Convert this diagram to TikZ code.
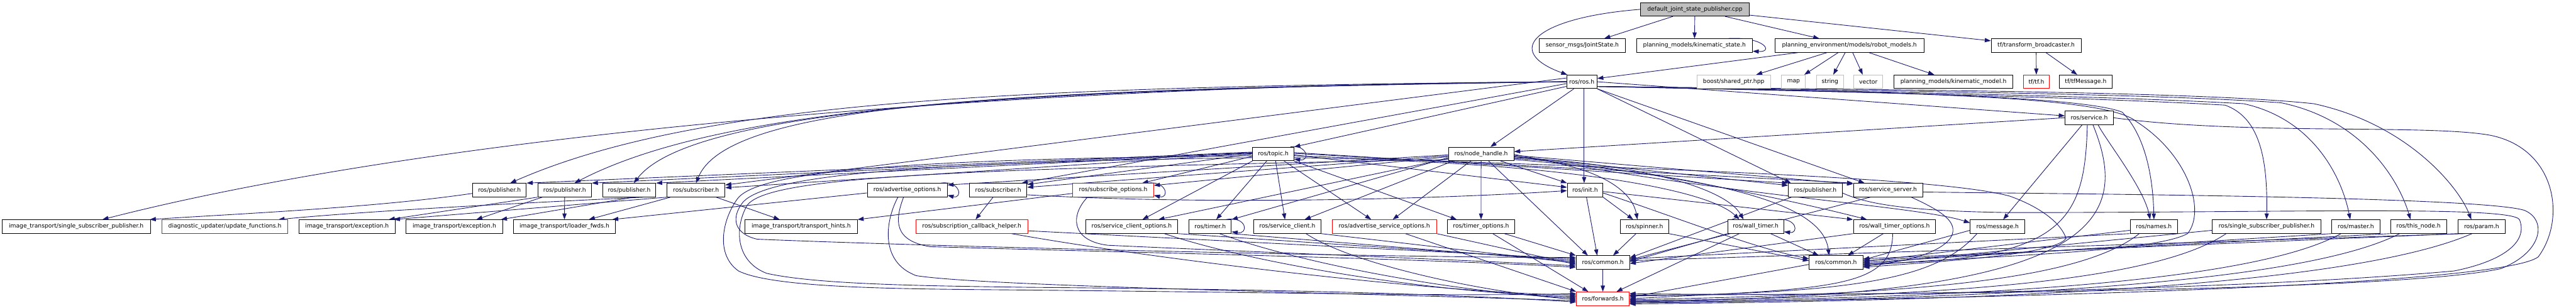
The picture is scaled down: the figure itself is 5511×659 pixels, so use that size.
\documentclass[tikz,border=0pt]{standalone}
\usepackage{fontspec}
\newfontfamily\dxfont{DejaVu Sans}
\usetikzlibrary{arrows.meta}
\pgfdeclarelayer{bglayer}
\pgfdeclarelayer{edgelayer}
\pgfsetlayers{bglayer,edgelayer,main}
\definecolor{dxedge}{HTML}{191970}
\definecolor{dxgray}{HTML}{BFBFBF}
\begin{document}
\begin{tikzpicture}[x=1pt,y=-1pt,
  nb/.style={draw=black,fill=white,line width=1.2pt,minimum height=29pt,inner sep=0pt,font=\dxfont\fontsize{12.4}{14}\selectfont},
  nr/.style={nb,draw=red},
  ng/.style={nb,draw=dxgray},
  nt/.style={nb,fill=dxgray},
  e/.style={draw=dxedge,line width=1.2pt,-{Triangle[length=13pt,width=9pt]}}]
\begin{pgfonlayer}{bglayer}
\fill[white] (0,0) rectangle (5511,659);
\end{pgfonlayer}
\useasboundingbox (0,0) rectangle (5511,659);
% row 0
\node[nt,minimum width=232pt] (top) at (3626,20) {default\_joint\_state\_publisher.cpp};
% row 1
\node[nb,minimum width=184pt] (sensor) at (3385,97.5) {sensor\_msgs/JointState.h};
\node[nb,minimum width=248pt] (kstate) at (3625,97.5) {planning\_models/kinematic\_state.h};
\node[nb,minimum width=319pt] (robot) at (3956.5,97.5) {planning\_environment/models/robot\_models.h};
\node[nb,minimum width=192.5pt] (tfb) at (4356,97.5) {tf/transform\_broadcaster.h};
% row 2
\node[nb,minimum width=65pt] (rosh) at (3384,175) {ros/ros.h};
\node[ng,minimum width=157.5pt] (boost) at (3709,175) {boost/shared\_ptr.hpp};
\node[ng,minimum width=51pt] (map) at (3837,175) {map};
\node[ng,minimum width=58pt] (string) at (3915,175) {string};
\node[ng,minimum width=62pt] (vector) at (3997,175) {vector};
\node[nb,minimum width=254pt] (kmodel) at (4179,175) {planning\_models/kinematic\_model.h};
\node[nr,minimum width=55pt] (tftf) at (4356.5,175) {tf/tf.h};
\node[nb,minimum width=112pt] (tfmsg) at (4462,175) {tf/tfMessage.h};
% row 3
\node[nb,minimum width=103pt] (service) at (4469.5,252) {ros/service.h};
% row 4
\node[nb,minimum width=88pt] (topic) at (2724,329.5) {ros/topic.h};
\node[nb,minimum width=140pt] (nh) at (3168.6,329.5) {ros/node\_handle.h};
% row 5
\node[nb,minimum width=115pt] (pub1) at (1068.5,407) {ros/publisher.h};
\node[nb,minimum width=115pt] (pub2) at (1208,407) {ros/publisher.h};
\node[nb,minimum width=114pt] (pub3) at (1346,407) {ros/publisher.h};
\node[nb,minimum width=124pt] (sub1) at (1489,407) {ros/subscriber.h};
\node[nb,minimum width=171pt] (advopt) at (1941,407) {ros/advertise\_options.h};
\node[nb,minimum width=123pt] (sub2) at (2135.5,407) {ros/subscriber.h};
\node[nr,minimum width=173pt] (subopt) at (2381.5,407) {ros/subscribe\_options.h};
\node[nb,minimum width=76pt] (init) at (3391,407) {ros/init.h};
\node[nb,minimum width=115pt] (pub4) at (3883.5,407) {ros/publisher.h};
\node[nb,minimum width=148pt] (srvsrv) at (4039,407) {ros/service\_server.h};
% row 6
\node[nb,minimum width=317.5pt] (itssp) at (163,485) {image\_transport/single\_subscriber\_publisher.h};
\node[nr,minimum width=270pt] (diag) at (481,485) {diagnostic\_updater/update\_functions.h};
\node[nb,minimum width=205pt] (exc1) at (742.5,485) {image\_transport/exception.h};
\node[nb,minimum width=206pt] (exc2) at (972,485) {image\_transport/exception.h};
\node[nb,minimum width=219pt] (loader) at (1207.5,485) {image\_transport/loader\_fwds.h};
\node[nb,minimum width=240pt] (hints) at (1714,485) {image\_transport/transport\_hints.h};
\node[nr,minimum width=239pt] (subcb) at (2079,485) {ros/subscription\_callback\_helper.h};
\node[nb,minimum width=197pt] (sco) at (2421,485) {ros/service\_client\_options.h};
\node[nb,minimum width=90.5pt] (timer) at (2589,485) {ros/timer.h};
\node[nb,minimum width=144pt] (sclient) at (2754,485) {ros/service\_client.h};
\node[nr,minimum width=223pt] (aso) at (2961.5,485) {ros/advertise\_service\_options.h};
\node[nb,minimum width=145pt] (topt) at (3168.5,485) {ros/timer\_options.h};
\node[nb,minimum width=103.5pt] (spinner) at (3518,485) {ros/spinner.h};
\node[nb,minimum width=120pt] (wtimer) at (3756,485) {ros/wall\_timer.h};
\node[nb,minimum width=176pt] (wto) at (4053,485) {ros/wall\_timer\_options.h};
\node[nb,minimum width=117pt] (msg) at (4273.5,485) {ros/message.h};
\node[nb,minimum width=101.6pt] (names) at (4608,485) {ros/names.h};
\node[nb,minimum width=232pt] (rssp) at (4849,485) {ros/single\_subscriber\_publisher.h};
\node[nb,minimum width=102.5pt] (master) at (5040,485) {ros/master.h};
\node[nb,minimum width=119.5pt] (thisnode) at (5174,485) {ros/this\_node.h};
\node[nb,minimum width=100pt] (param) at (5309,485) {ros/param.h};
% row 7, 8
\node[nb,minimum width=114pt] (common1) at (3429,562) {ros/common.h};
\node[nb,minimum width=115pt] (common2) at (3928,562) {ros/common.h};
\node[nr,minimum width=112.5pt] (fwd) at (3429,639.5) {ros/forwards.h};

\begin{pgfonlayer}{edgelayer}
% top
\draw[e] (top) -- (sensor);
\draw[e] (top) -- (kstate);
\draw[e] (top) -- (robot);
\draw[e] (top) -- (tfb);
\draw[e] (top.west) .. controls (3280,38) and (3215,110) .. ([xshift=2pt]rosh.north west);
\draw[e] ([xshift=-52pt]kstate.north east) .. controls (3775,78) and (3795,112) .. ([yshift=3pt]kstate.south east);
% robot models
\draw[e] ([xshift=-110pt]robot.south) -- ([yshift=7pt]rosh.east);
\draw[e] ([xshift=-48pt]robot.south) -- ([xshift=48pt]boost.north);
\draw[e] ([xshift=-24pt]robot.south) -- ([xshift=23pt]map.north);
\draw[e] ([xshift=-9pt]robot.south) -- ([xshift=7pt]string.north);
\draw[e] ([xshift=7pt]robot.south) -- ([xshift=-12pt]vector.north);
\draw[e] ([xshift=42pt]robot.south) -- ([xshift=-41pt]kmodel.north);
% tf
\draw[e] (tfb) -- (tftf);
\draw[e] ([xshift=21pt]tfb.south) -- ([xshift=-18pt]tfmsg.north);
% ros.h
\draw[e] ([xshift=-17pt]rosh.south) -- ([xshift=20pt]nh.north);
\draw[e] ([xshift=5pt]rosh.south) -- ([xshift=-2pt]init.north);
\draw[e] ([yshift=-10pt]rosh.west) -- (topic.north east);
\draw[e] (rosh.east) -- ([yshift=4pt]service.west);
\draw[e] (rosh.south east) -- ([xshift=-52pt]pub4.north);
\draw[e] (rosh.south east) -- ([xshift=-50pt]srvsrv.north);
\draw[e] ([yshift=-10pt]rosh.east) .. controls (4000,195) and (4450,205) .. (4540,240) .. controls (4590,290) and (4606,380) .. (names.north);
\draw[e] ([yshift=-10pt]rosh.east) .. controls (4000,197) and (4500,210) .. (4760,225) .. controls (4830,250) and (4852,330) .. (rssp.north);
\draw[e] ([yshift=-10pt]rosh.east) .. controls (4000,196) and (4500,205) .. (4800,222) .. controls (4950,255) and (5010,380) .. ([xshift=-12pt]master.north);
\draw[e] ([yshift=-10pt]rosh.east) .. controls (4000,194) and (4600,200) .. (4880,220) .. controls (5050,255) and (5130,380) .. ([xshift=-17pt]thisnode.north);
\draw[e] ([yshift=-10pt]rosh.east) .. controls (4000,192) and (4700,195) .. (4950,222) .. controls (5150,265) and (5260,400) .. ([xshift=-22pt]param.north);
\draw[e] ([yshift=-10pt]rosh.east) .. controls (4000,198) and (4500,200) .. (4570,260) .. controls (4680,330) and (4720,450) .. (4680,500) .. controls (4600,545) and (4150,550) .. ([yshift=-8pt]common2.east);
\draw[e] (rosh.west) .. controls (2300,180) and (1000,270) .. ([xshift=56pt]itssp.north);
\draw[e] (rosh.west) .. controls (2200,185) and (1500,212) .. ([xshift=23pt]pub1.north);
\draw[e] (rosh.west) .. controls (2200,188) and (1550,225) .. ([xshift=21pt]pub2.north);
\draw[e] (rosh.west) .. controls (2200,190) and (1480,230) .. ([xshift=10pt]pub3.north);
\draw[e] (rosh.west) .. controls (2200,192) and (1560,215) .. (sub1.north);
\draw[e] ([yshift=8pt]rosh.west) -- ([yshift=-4pt]sub1.north east);
\draw[e] ([yshift=-4pt]rosh.west) -- ([xshift=-12pt]sub2.north east);
% topic.h
\draw[e] ([xshift=-8pt]topic.north east) .. controls (2795,308) and (2805,345) .. ([yshift=4pt]topic.south east);
\draw[e] (topic.west) -- ([yshift=-3pt]sub2.north east);
\draw[e] ([yshift=-5pt]topic.west) -- ([xshift=62pt]subopt.north);
\draw[e] (topic.south west) -- ([xshift=23pt]sco.north);
\draw[e] ([xshift=-14pt]topic.south) -- ([xshift=13pt]timer.north);
\draw[e] ([xshift=5pt]topic.south) -- ([xshift=-5pt]sclient.north);
\draw[e] ([xshift=23pt]topic.south) -- ([xshift=-28pt]aso.north);
\draw[e] (topic.south east) -- ([xshift=-52pt]topt.north);
\draw[e] ([yshift=-2pt]topic.east) -- ([yshift=6pt]init.west);
\draw[e] ([yshift=3pt]topic.east) -- (pub4.north west);
\draw[e] ([yshift=1pt]topic.east) -- (srvsrv.north west);
\draw[e] ([yshift=-8pt]topic.east) .. controls (3300,345) and (3650,400) .. ([xshift=-35pt]wtimer.north);
\draw[e] ([yshift=-4pt]topic.east) .. controls (3500,360) and (4150,378) .. (4300,420) .. controls (4370,445) and (4410,480) .. (4420,510) .. controls (4400,545) and (4150,560) .. ([yshift=-10pt]common2.east);
\draw[e] ([yshift=4pt]topic.west) -- (pub1.north east);
\draw[e] ([yshift=3pt]topic.west) -- (pub2.north east);
\draw[e] ([yshift=2pt]topic.west) -- (pub3.north east);
\draw[e] ([yshift=1pt]topic.west) -- ([yshift=-10pt]sub1.north east);
\draw[e] ([yshift=-4pt]topic.west) .. controls (1900,340) and (1620,370) .. (1578,425) .. controls (1545,470) and (1530,545) .. (1580,580) .. controls (1650,615) and (1900,618) .. (2100,620) .. controls (2700,625) and (3100,635) .. ([yshift=11pt]fwd.west);
\draw[e] ([yshift=-8pt]topic.west) .. controls (1900,348) and (1640,380) .. (1590,432) .. controls (1560,470) and (1575,502) .. (1620,512) .. controls (2000,528) and (3000,552) .. ([yshift=11pt]common1.west);
% node_handle.h
\draw[e] ([xshift=42pt]nh.south) -- (init.north west);
\draw[e] (nh.south) -- (topt.north);
\draw[e] ([xshift=-22pt]nh.south) -- ([xshift=18pt]aso.north);
\draw[e] ([xshift=-60pt]nh.south) -- ([xshift=37pt]sclient.north);
\draw[e] ([xshift=16pt]nh.south) -- ([xshift=-32pt]common1.north);
\draw[e] ([yshift=-8pt]nh.west) -- (timer.north east);
\draw[e] ([yshift=-10pt]nh.west) -- ([xshift=-42pt]sco.north east);
\draw[e] ([yshift=-6pt]nh.west) -- ([yshift=-5pt]subopt.north east);
\draw[e] ([yshift=-4pt]nh.west) -- ([yshift=-9pt]sub2.north east);
\draw[e] ([yshift=-2pt]nh.west) -- ([yshift=-4pt]advopt.north east);
\draw[e] ([yshift=-5pt]nh.east) -- ([yshift=-5pt]pub4.north west);
\draw[e] ([yshift=-3pt]nh.east) -- ([yshift=-2pt]srvsrv.north west);
\draw[e] ([yshift=-6pt]nh.east) .. controls (3400,350) and (3490,400) .. ([xshift=-15pt]spinner.north);
\draw[e] ([yshift=-8pt]nh.east) .. controls (3500,350) and (3690,400) .. ([xshift=-26pt]wtimer.north);
\draw[e] ([yshift=-10pt]nh.east) .. controls (3450,350) and (3800,420) .. ([xshift=-59pt]wto.north);
\draw[e] ([yshift=-12pt]nh.east) .. controls (3700,380) and (3900,440) .. ([xshift=-15pt]common2.north);
\draw[e] ([yshift=-1pt]nh.east) .. controls (3700,420) and (4100,440) .. ([yshift=8pt]msg.west);
\draw[e] ([yshift=-12pt]nh.west) .. controls (2000,362) and (1640,380) .. (1598,440) .. controls (1570,490) and (1575,560) .. (1640,585) .. controls (1750,610) and (2000,612) .. (2200,615) .. controls (2800,620) and (3100,630) .. ([yshift=-7pt]fwd.west);
% service.h
\draw[e] (service.west) -- ([yshift=5pt]nh.east);
\draw[e] ([xshift=-15pt]service.south) -- ([xshift=12pt]msg.north);
\draw[e] ([xshift=19pt]service.south) .. controls (4505,300) and (4585,400) .. ([xshift=-8pt]names.north);
\draw[e] ([xshift=-4pt]service.south) .. controls (4460,470) and (4420,560) .. ([yshift=-2pt]common2.east);
\draw[e] ([xshift=8pt]service.south) .. controls (4560,470) and (4500,640) .. ([yshift=-4pt]fwd.east);
\draw[e] (service.east) .. controls (4800,290) and (5200,265) .. (5330,290) .. controls (5470,320) and (5490,470) .. (5430,550) .. controls (5350,610) and (4300,640) .. ([yshift=-8pt]fwd.east);
% init.h
\draw[e] ([xshift=3pt]init.south) -- ([xshift=-12pt]common1.north);
\draw[e] (init.south east) -- ([xshift=-24pt]spinner.north);
\draw[e] ([yshift=-3pt]init.east) -- (wto.north west);
\draw[e] ([yshift=-6pt]init.east) .. controls (3600,470) and (3750,530) .. ([yshift=8pt]common2.west);
% publisher / service_server (right)
\draw[e] ([xshift=-51pt]pub4.south) -- ([yshift=10pt]common1.east);
\draw[e] ([xshift=-38pt]srvsrv.south) -- ([yshift=6pt]common1.east);
\draw[e] ([yshift=-6pt]pub4.east) .. controls (4000,440) and (4100,452) .. (4300,455) .. controls (4900,455) and (5370,440) .. (5390,470) .. controls (5410,520) and (5350,560) .. (5250,580) .. controls (4800,620) and (4000,635) .. ([yshift=11pt]fwd.east);
\draw[e] ([yshift=-4pt]srvsrv.east) .. controls (4400,415) and (5300,420) .. (5400,450) .. controls (5450,470) and (5440,540) .. (5350,575) .. controls (5150,620) and (4200,630) .. ([yshift=8pt]fwd.east);
\draw[e] ([xshift=50pt]srvsrv.south) .. controls (4150,450) and (4180,470) .. (4178,495) .. controls (4175,530) and (4100,560) .. ([yshift=-6pt]common2.east);
% spinner, wall timer
\draw[e] ([xshift=-18pt]spinner.south) -- ([xshift=22pt]common1.north);
\draw[e] (spinner.south east) -- ([yshift=4pt]common2.west);
\draw[e] ([xshift=-14pt]wtimer.north east) .. controls (3845,466) and (3848,500) .. ([yshift=4pt]wtimer.south east);
\draw[e] ([xshift=-35pt]wtimer.south) -- ([xshift=29pt]fwd.north);
\draw[e] ([xshift=32pt]wtimer.south) -- ([xshift=-37pt]common2.north);
\draw[e] (wtimer.south west) -- ([yshift=2pt]common1.east);
\draw[e] ([xshift=-24pt]wto.south) -- ([xshift=25pt]common2.north);
\draw[e] ([xshift=-4pt]wto.south) .. controls (4050,620) and (3900,618) .. (fwd.east);
\draw[e] (wto.south west) -- ([yshift=-2pt]common1.east);
% common
\draw[e] (common1) -- (fwd);
\draw[e] ([yshift=-4pt]common2.west) -- ([yshift=3pt]fwd.east);
% right lower row
\draw[e] ([yshift=-8pt]msg.west) -- ([yshift=6pt]common2.east);
\draw[e] ([xshift=15pt]msg.south west) .. controls (4150,590) and (4000,628) .. ([yshift=6pt]fwd.east);
\draw[e] (names.south west) -- ([yshift=8pt]common1.east);
\draw[e] ([yshift=-8pt]names.west) -- ([yshift=2pt]common2.east);
\draw[e] ([xshift=20pt]names.south west) .. controls (4450,600) and (4100,630) .. ([yshift=-2pt]fwd.east);
\draw[e] ([yshift=-8pt]rssp.west) -- ([yshift=-4pt]common2.east);
\draw[e] ([xshift=30pt]rssp.south west) .. controls (4600,610) and (4100,635) .. ([yshift=-5pt]fwd.east);
\draw[e] (master.south west) -- (common2.east);
\draw[e] ([xshift=20pt]master.south west) .. controls (4800,615) and (4100,640) .. ([yshift=-6pt]fwd.east);
\draw[e] (thisnode.south west) -- ([yshift=4pt]common2.east);
\draw[e] ([xshift=20pt]thisnode.south west) .. controls (4900,620) and (4100,642) .. ([yshift=-9pt]fwd.east);
\draw[e] (param.south west) -- ([yshift=8pt]common2.east);
\draw[e] ([xshift=15pt]param.south west) -- ([yshift=4pt]common1.east);
\draw[e] ([xshift=30pt]param.south west) .. controls (5000,625) and (4100,645) .. ([yshift=-11pt]fwd.east);
% left lower row
\draw[e] ([yshift=-9pt]subcb.east) -- ([yshift=8pt]common1.west);
\draw[e] ([xshift=85pt]subcb.south) .. controls (2500,560) and (3100,628) .. ([yshift=8pt]fwd.west);
\draw[e] (sco.south east) -- ([yshift=5pt]common1.west);
\draw[e] ([xshift=70pt]sco.south) .. controls (2700,570) and (3100,630) .. ([yshift=5pt]fwd.west);
\draw[e] ([xshift=-12pt]timer.north east) .. controls (2668,462) and (2672,502) .. ([yshift=4pt]timer.south east);
\draw[e] (timer.south east) -- ([yshift=2pt]common1.west);
\draw[e] ([xshift=20pt]timer.south) .. controls (2800,570) and (3150,630) .. ([yshift=2pt]fwd.west);
\draw[e] (sclient.south east) -- ([yshift=-1pt]common1.west);
\draw[e] ([xshift=40pt]sclient.south) .. controls (2900,570) and (3200,630) .. ([yshift=-1pt]fwd.west);
\draw[e] (aso.south east) -- ([yshift=-4pt]common1.west);
\draw[e] ([xshift=45pt]aso.south) -- (fwd.north west);
\draw[e] ([xshift=50pt]topt.south) -- (common1.north west);
\draw[e] ([xshift=25pt]topt.south) -- ([xshift=-31pt]fwd.north);
% subscribe options, advertise options, subscribers
\draw[e] ([xshift=-14pt]subopt.north east) .. controls (2497,386) and (2502,426) .. ([yshift=4pt]subopt.south east);
\draw[e] ([xshift=-55pt]subopt.south) .. controls (2290,460) and (2290,515) .. (2370,525) .. controls (2700,540) and (3100,555) .. ([yshift=-7pt]common1.west);
\draw[e] ([yshift=-7pt]subopt.west) -- (hints.north east);
\draw[e] ([xshift=-14pt]advopt.north east) .. controls (2055,386) and (2060,426) .. ([yshift=4pt]advopt.south east);
\draw[e] ([yshift=-6pt]advopt.west) -- ([xshift=-8pt]loader.north east);
\draw[e] ([xshift=-20pt]advopt.south) .. controls (1895,470) and (1880,560) .. (1960,590) .. controls (2100,612) and (2800,625) .. ([yshift=-4pt]fwd.west);
\draw[e] ([xshift=-8pt]advopt.south) .. controls (1915,470) and (1910,515) .. (1990,528) .. controls (2400,540) and (3000,552) .. ([yshift=-10pt]common1.west);
\draw[e] ([xshift=-11pt]sub2.south) -- ([xshift=8pt]subcb.north);
\draw[e] ([yshift=-10pt]sub2.east) .. controls (2600,440) and (3100,425) .. ([yshift=-1pt]init.west);
\draw[e] ([xshift=43pt]sub1.south) -- ([xshift=-46pt]hints.north);
\draw[e] (sub1.south west) -- ([xshift=-3pt]exc1.north east);
\draw[e] ([xshift=8pt]sub1.south west) -- ([xshift=52pt]loader.north);
% image_transport publishers
\draw[e] ([yshift=-7pt]pub1.west) .. controls (800,445) and (500,458) .. ([xshift=-2pt]itssp.north east);
\draw[e] (pub2.south west) -- ([xshift=-14pt]exc1.north east);
\draw[e] ([xshift=-48pt]pub2.south) -- ([xshift=47pt]exc2.north);
\draw[e] (pub2.south) -- (loader.north);
\draw[e] ([xshift=30pt]pub3.south) .. controls (1000,440) and (750,455) .. ([xshift=-21pt]diag.north east);
\draw[e] ([xshift=10pt]pub3.south) -- ([xshift=-4pt]exc2.north east);
\end{pgfonlayer}
\end{tikzpicture}
\end{document}
